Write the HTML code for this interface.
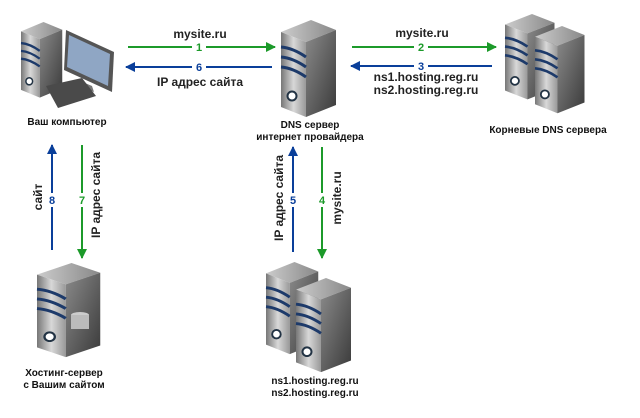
<!DOCTYPE html>
<html><head><meta charset="utf-8"><style>
html,body{margin:0;padding:0;background:#fff}
svg{display:block}
text{font-family:"Liberation Sans","DejaVu Sans",sans-serif;font-weight:bold}
</style></head><body>
<svg width="640" height="418" viewBox="0 0 640 418" xmlns="http://www.w3.org/2000/svg">
<defs>
<linearGradient id="fr" x1="0" x2="1"><stop offset="0" stop-color="#777"/><stop offset="0.5" stop-color="#d8d8d8"/><stop offset="1" stop-color="#999"/></linearGradient>
<linearGradient id="sd" x1="0" x2="1" y1="0" y2="1"><stop offset="0" stop-color="#8a8a8a"/><stop offset="1" stop-color="#3a3a3a"/></linearGradient>
<linearGradient id="tp" x1="0" x2="1"><stop offset="0" stop-color="#ccc"/><stop offset="1" stop-color="#888"/></linearGradient>
<g id="srv">
<polygon points="0,12 30,0 55,10 25,22" fill="url(#tp)"/>
<polygon points="0,12 25,22 25,97 0,87" fill="url(#fr)"/>
<polygon points="25,22 55,10 55,85 25,97" fill="url(#sd)"/>
<path d="M0,27 Q12,28 25,37 M0,37 Q12,38 25,47 M0,47 Q12,48 25,57" stroke="#1d3a6a" stroke-width="3" fill="none"/>
<circle cx="11" cy="76" r="4.5" fill="#fff" stroke="#234" stroke-width="2"/>
</g>
<marker id="ag" markerWidth="10" markerHeight="10" refX="9" refY="5" orient="auto" markerUnits="userSpaceOnUse"><polygon points="0,0 10,5 0,10" fill="#1c9a2a"/></marker>
<marker id="ab" markerWidth="10" markerHeight="10" refX="9" refY="5" orient="auto" markerUnits="userSpaceOnUse"><polygon points="0,0 10,5 0,10" fill="#0a3f9a"/></marker>
</defs>

<!-- computer -->
<use href="#srv" transform="translate(21,22) scale(0.75,0.78)"/>
<polygon points="66,30 114,52 112,92 64,70" fill="#555"/>
<polygon points="69,35 110,54 108,86 67,67" fill="#8fa6c4"/>
<polygon points="78,80 92,86 94,92 80,86" fill="#777"/>
<polygon points="46,86 82,78 96,96 58,108" fill="#4a4a4a"/>

<use href="#srv" transform="translate(281,20)"/>
<use href="#srv" transform="translate(505,14) scale(0.9,0.88)"/>
<use href="#srv" transform="translate(535,26) scale(0.9,0.9)"/>
<use href="#srv" transform="translate(37,263) scale(1.15,0.97)"/>
<ellipse cx="80" cy="315" rx="9" ry="3" fill="#ccc"/>
<rect x="71" y="315" width="18" height="14" fill="#bbb"/>
<use href="#srv" transform="translate(266,262) scale(0.95,0.95)"/>
<use href="#srv" transform="translate(296,278) scale(1,0.97)"/>

<!-- horizontal arrows -->
<g stroke-width="2">
<line x1="128" y1="47" x2="192" y2="47" stroke="#1c9a2a"/><line x1="206" y1="47" x2="275" y2="47" stroke="#1c9a2a" marker-end="url(#ag)"/>
<line x1="272" y1="67" x2="206" y2="67" stroke="#0a3f9a"/><line x1="192" y1="67" x2="126" y2="67" stroke="#0a3f9a" marker-end="url(#ab)"/>
<line x1="352" y1="47" x2="414" y2="47" stroke="#1c9a2a"/><line x1="428" y1="47" x2="496" y2="47" stroke="#1c9a2a" marker-end="url(#ag)"/>
<line x1="492" y1="66" x2="428" y2="66" stroke="#0a3f9a"/><line x1="414" y1="66" x2="351" y2="66" stroke="#0a3f9a" marker-end="url(#ab)"/>
<line x1="52" y1="250" x2="52" y2="207" stroke="#0a3f9a"/><line x1="52" y1="193" x2="52" y2="145" stroke="#0a3f9a" marker-end="url(#ab)"/>
<line x1="82" y1="145" x2="82" y2="193" stroke="#1c9a2a"/><line x1="82" y1="207" x2="82" y2="258" stroke="#1c9a2a" marker-end="url(#ag)"/>
<line x1="293" y1="252" x2="293" y2="207" stroke="#0a3f9a"/><line x1="293" y1="193" x2="293" y2="147" stroke="#0a3f9a" marker-end="url(#ab)"/>
<line x1="322" y1="147" x2="322" y2="193" stroke="#1c9a2a"/><line x1="322" y1="207" x2="322" y2="258" stroke="#1c9a2a" marker-end="url(#ag)"/>
</g>

<g font-size="11" text-anchor="middle">
<text x="199" y="51" fill="#1c9a2a">1</text>
<text x="199" y="71" fill="#0a3f9a">6</text>
<text x="421" y="51" fill="#1c9a2a">2</text>
<text x="421" y="70" fill="#0a3f9a">3</text>
<text x="52" y="204" fill="#0a3f9a">8</text>
<text x="82" y="204" fill="#1c9a2a">7</text>
<text x="293" y="204" fill="#0a3f9a">5</text>
<text x="322" y="204" fill="#1c9a2a">4</text>
</g>
<g font-size="12" text-anchor="middle" fill="#222">
<text x="200" y="38">mysite.ru</text>
<text x="200" y="86">IP адрес сайта</text>
<text x="422" y="37">mysite.ru</text>
<text x="426" y="81">ns1.hosting.reg.ru</text>
<text x="426" y="94">ns2.hosting.reg.ru</text>
<text transform="translate(42,197) rotate(-90)">сайт</text>
<text transform="translate(100,195) rotate(-90)">IP адрес сайта</text>
<text transform="translate(283,198) rotate(-90)">IP адрес сайта</text>
<text transform="translate(341,198) rotate(-90)">mysite.ru</text>
</g>
<g font-size="10" text-anchor="middle" fill="#111">
<text x="67" y="125">Ваш компьютер</text>
<text x="310" y="128">DNS сервер</text>
<text x="310" y="140">интернет провайдера</text>
<text x="548" y="133">Корневые DNS сервера</text>
<text x="64" y="376">Хостинг-сервер</text>
<text x="64" y="388">с Вашим сайтом</text>
<text x="315" y="384">ns1.hosting.reg.ru</text>
<text x="315" y="396">ns2.hosting.reg.ru</text>
</g>
</svg>
</body></html>
